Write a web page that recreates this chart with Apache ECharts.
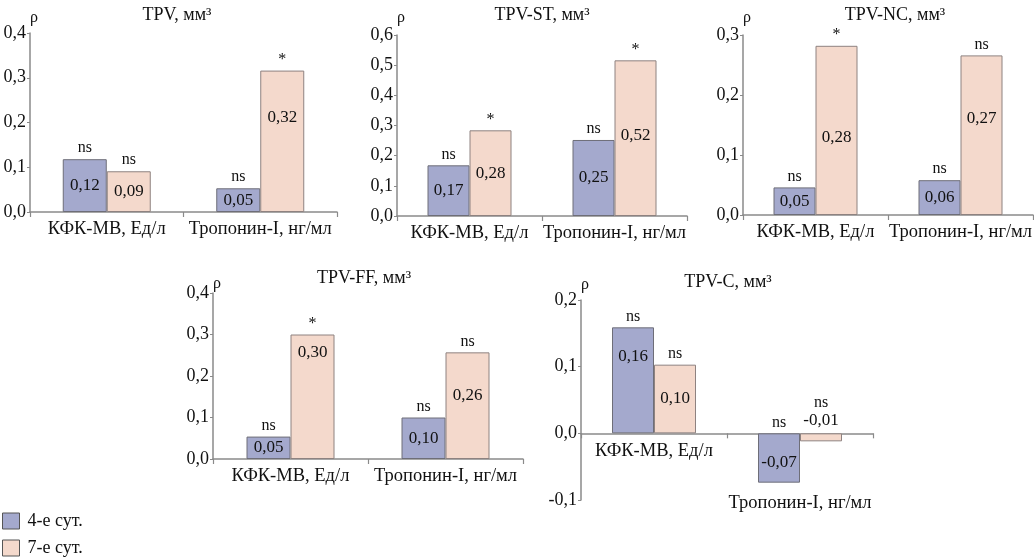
<!DOCTYPE html>
<html>
<head>
<meta charset="utf-8">
<script src="https://cdn.jsdelivr.net/npm/echarts@6/dist/echarts.min.js"></script>
<style>
html,body{margin:0;padding:0;background:#fff;}
#chart{width:1034px;height:557px;}
</style>
</head>
<body>
<div id="chart"></div>
<script>
// ---------- DATA ----------
const categories = ['КФК-МВ, Ед/л', 'Тропонин-I, нг/мл'];
const seriesNames = ['4-е сут.', '7-е сут.'];
const chartTitles = ['TPV, мм³', 'TPV-ST, мм³', 'TPV-NC, мм³', 'TPV-FF, мм³', 'TPV-C, мм³'];

const tpvDay4   = [0.118, 0.053];
const tpvDay7   = [0.091, 0.316];
const tpvStDay4 = [0.168, 0.252];
const tpvStDay7 = [0.284, 0.516];
const tpvNcDay4 = [0.046, 0.058];
const tpvNcDay7 = [0.282, 0.266];
const tpvFfDay4 = [0.054, 0.100];
const tpvFfDay7 = [0.300, 0.257];
const tpvCDay4  = [0.159, -0.074];
const tpvCDay7  = [0.103, -0.012];

const tpvSig4   = ['ns', 'ns'];
const tpvSig7   = ['ns', '*'];
const tpvStSig4 = ['ns', 'ns'];
const tpvStSig7 = ['*', '*'];
const tpvNcSig4 = ['ns', 'ns'];
const tpvNcSig7 = ['*', 'ns'];
const tpvFfSig4 = ['ns', 'ns'];
const tpvFfSig7 = ['*', 'ns'];
const tpvCSig4  = ['ns', 'ns'];
const tpvCSig7  = ['ns', 'ns'];

const yMin = [0, 0, 0, 0, -0.1];
const yMax = [0.4, 0.6, 0.3, 0.4, 0.2];
const yStep = 0.1;

const day4Sets = [tpvDay4, tpvStDay4, tpvNcDay4, tpvFfDay4, tpvCDay4];
const day7Sets = [tpvDay7, tpvStDay7, tpvNcDay7, tpvFfDay7, tpvCDay7];
const sig4Sets = [tpvSig4, tpvStSig4, tpvNcSig4, tpvFfSig4, tpvCSig4];
const sig7Sets = [tpvSig7, tpvStSig7, tpvNcSig7, tpvFfSig7, tpvCSig7];

// ---------- LAYOUT / STYLE ----------
const FONT = '"Liberation Serif", "DejaVu Serif", serif';
const COL4 = '#a4a9cd', COL7 = '#f4d9cc';
const BORDER4 = '#6e6e78', BORDER7 = '#8e8280';
const layouts = [
  {left: 30,  top: 33,  width: 307, height: 179, barW: 44, titleX: 177, titleY: 15,  nameGap: 7},
  {left: 397, top: 35,  width: 290, height: 181, barW: 42, titleX: 542, titleY: 15,  nameGap: 9},
  {left: 743, top: 35,  width: 290, height: 180, barW: 42, titleX: 895, titleY: 15,  nameGap: 9},
  {left: 213, top: 293, width: 310, height: 166, barW: 44, titleX: 364, titleY: 278, nameGap: 1},
  {left: 581, top: 300, width: 292, height: 200, barW: 42, titleX: 728, titleY: 282, nameGap: 7}
];
// per-point value-label vertical nudges [chart][series][category]
const valueLabelNudge = [
  [[0, 0], [0, -24]],
  [[0, 0], [0, -3]],
  [[0, 0], [7, -17]],
  [[0, 0], [-44, -10]],
  [[-24, 5], [0, 'top']]
];
// extra offset for significance labels
const sigNudge = [
  [[0, 0], [0, 0]],
  [[0, 0], [0, 0]],
  [[0, 0], [0, 0]],
  [[0, 0], [0, 0]],
  [[0, 0], [0, -20]]
];
const catLabelPad = [[0,0],[0,0],[0,0],[0,0],[0,52]];

const fmt2 = v => v.toFixed(2).replace('.', ',');
const fmt1 = v => (Math.abs(v) < 1e-9 ? 0 : v).toFixed(1).replace('.', ',');

const grid = [], xAxis = [], yAxis = [], series = [], graphic = [];

layouts.forEach((L, k) => {
  grid.push({left: L.left, top: L.top, width: L.width, height: L.height,
             containLabel: false, outerBoundsMode: 'none'});
  const catData = categories.map((c, i) => ({value: c, textStyle: {padding: [catLabelPad[k][i], 0, 0, 0]}}));
  // place the category axis on the zero line of the value axis
  const zeroOffset = -L.height * (0 - yMin[k]) / (yMax[k] - yMin[k]);
  xAxis.push({
    type: 'category', gridIndex: k, data: catData, position: 'bottom', offset: zeroOffset,
    axisLine: {show: true, onZero: false, lineStyle: {color: '#8a8a8a', width: 1.5}},
    axisTick: {show: true, alignWithLabel: false, length: 5, lineStyle: {color: '#8a8a8a', width: 1.2}},
    axisLabel: {color: '#111', fontFamily: FONT, fontSize: 18.5, margin: 8, interval: 0}
  });
  xAxis.push({type: 'category', gridIndex: k, data: categories, show: false});
  yAxis.push({
    type: 'value', gridIndex: k, min: yMin[k], max: yMax[k], interval: yStep,
    name: 'ρ', nameLocation: 'end', nameGap: L.nameGap,
    nameTextStyle: {fontFamily: FONT, fontSize: 16, color: '#111', align: 'left', padding: [0, 0, 0, 0]},
    splitLine: {show: false},
    axisLine: {show: true, onZero: false, lineStyle: {color: '#8a8a8a', width: 1.5}},
    axisTick: {show: true, length: 3, lineStyle: {color: '#8a8a8a'}},
    axisLabel: {color: '#111', fontFamily: FONT, fontSize: 18, margin: 4, formatter: fmt1}
  });
  graphic.push({
    type: 'text', x: L.titleX, y: L.titleY,
    style: {text: chartTitles[k], font: '18px ' + FONT, fill: '#111', align: 'center', verticalAlign: 'middle'}
  });
  [day4Sets[k], day7Sets[k]].forEach((vals, s) => {
    const data = vals.map((v, i) => {
      const n = valueLabelNudge[k][s][i];
      const lab = n === 'top'
        ? {position: 'top', distance: 4}
        : {position: 'inside', offset: [0, n]};
      return {value: v, label: lab};
    });
    series.push({
      name: seriesNames[s], type: 'bar', xAxisIndex: 2 * k, yAxisIndex: k,
      barWidth: L.barW, barGap: '0%', data: data,
      itemStyle: {color: s === 0 ? COL4 : COL7, borderColor: s === 0 ? BORDER4 : BORDER7, borderWidth: 1},
      label: {show: true, fontFamily: FONT, fontSize: 17, color: '#111', formatter: p => fmt2(p.value)},
      emphasis: {disabled: true}, animation: false
    });
  });
  [sig4Sets[k], sig7Sets[k]].forEach((sigs, s) => {
    const vals = s === 0 ? day4Sets[k] : day7Sets[k];
    series.push({
      name: 'sig' + k + '_' + s, type: 'bar', xAxisIndex: 2 * k + 1, yAxisIndex: k,
      barWidth: L.barW, barGap: '0%', silent: true,
      data: vals.map((v, i) => ({value: v, label: {offset: [0, sigNudge[k][s][i]]}})),
      itemStyle: {color: 'rgba(0,0,0,0)'},
      label: {show: true, position: 'top', distance: 3, fontFamily: FONT, fontSize: 16, color: '#111',
              formatter: p => sigs[p.dataIndex]},
      emphasis: {disabled: true}, animation: false
    });
  });
});

const chart = echarts.init(document.getElementById('chart'), null, {renderer: 'canvas'});
chart.setOption({
  backgroundColor: '#fff',
  animation: false,
  grid, xAxis, yAxis, series, graphic,
  legend: {
    data: seriesNames, orient: 'vertical', left: 2, top: 512, padding: 0,
    itemWidth: 17, itemHeight: 16, itemGap: 9, icon: 'rect',
    textStyle: {fontFamily: FONT, fontSize: 18, color: '#111', padding: [0, 0, 0, 3]},
    itemStyle: {borderColor: '#555', borderWidth: 1},
    selectedMode: false
  }
});
</script>
</body>
</html>
